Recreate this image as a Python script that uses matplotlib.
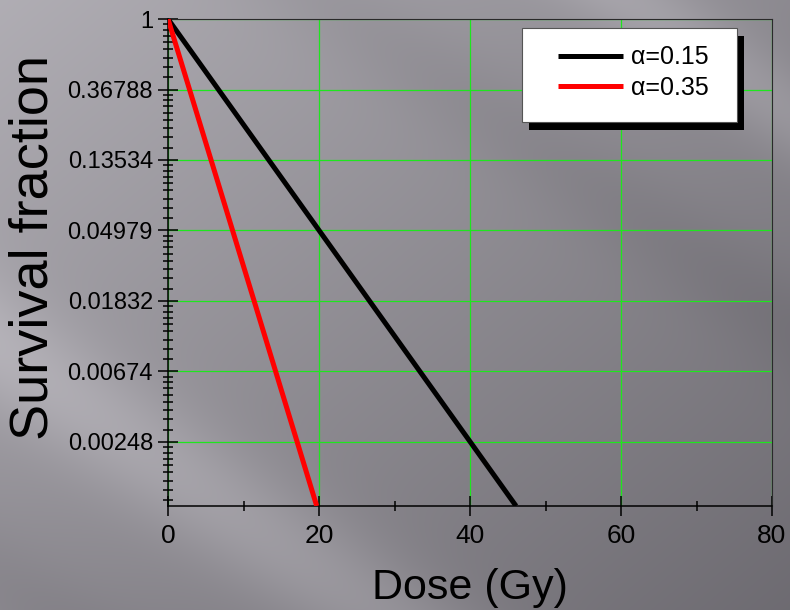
import numpy as np
import matplotlib
matplotlib.use("Agg")
import matplotlib.pyplot as plt
from matplotlib.patches import Rectangle

plt.rcParams['font.family'] = ['Liberation Sans', 'DejaVu Sans']

# survival curves (end points read on the dose axis where S = 0.001)
dose_a015 = [0, 46.1]
surv_a015 = [1, 0.001]
dose_a035 = [0, 19.7]
surv_a035 = [1, 0.001]
labels = ['\u03b1=0.15', '\u03b1=0.35']
colors = ['black', '#ff0000']

# y ticks at powers of e
ytick_vals = [1, 0.36788, 0.13534, 0.04979, 0.01832, 0.00674, 0.00248]
ytick_labels = ['1', '0.36788', '0.13534', '0.04979', '0.01832', '0.00674', '0.00248']
xticks = [0, 20, 40, 60, 80]

W, H = 790, 610
fig = plt.figure(figsize=(W / 100, H / 100), dpi=100)

# slide style grey background with diagonal streaks
yy, xx = np.mgrid[0:H, 0:W].astype(float)
u = xx / W
v = yy / H
top = 0.69 - 0.14 * u
bot = 0.56 - 0.13 * u
val = top + (bot - top) * v
q = yy - 0.7 * xx
val += 0.09 * np.exp(-((q - 350) / 70) ** 2)
val -= 0.03 * np.exp(-((q - 580) / 60) ** 2)
val -= 0.03 * np.exp(-((q + 230) / 60) ** 2)
val += 0.07 * np.exp(-((q + 440) / 50) ** 2)
rgb = np.dstack([val, val - 0.01, val + 0.015]).clip(0, 1)

bg = fig.add_axes([0, 0, 1, 1], zorder=-10)
bg.imshow(rgb, extent=[0, W, H, 0], aspect='auto', interpolation='bilinear')
bg.axis('off')

ax = fig.add_axes([168 / W, (H - 506) / H, 604 / W, 487 / H])
ax.set_facecolor('none')
ax.set_yscale('log')
ax.set_xlim(0, 80)
ax.set_ylim(0.001, 1)

l1, = ax.plot(dose_a015, surv_a015, color=colors[0], lw=3.6, solid_capstyle='butt', zorder=5)
l2, = ax.plot(dose_a035, surv_a035, color=colors[1], lw=3.6, solid_capstyle='butt', zorder=5)

ax.set_xticks(xticks)
ax.set_xticks([10, 30, 50, 70], minor=True)
ax.set_xticklabels([str(t) for t in xticks])
ax.set_yticks(ytick_vals)
ax.set_yticklabels(ytick_labels)

# 8 minor ticks per e-fold, evenly spaced in value
edges = ytick_vals + [ytick_vals[-1] / np.e]
minors = []
for hi, lo in zip(edges[:-1], edges[1:]):
    minors += [m for m in np.linspace(lo, hi, 10)[1:-1] if m >= 0.001]
ax.yaxis.set_minor_locator(matplotlib.ticker.FixedLocator(minors))
ax.yaxis.set_minor_formatter(matplotlib.ticker.NullFormatter())

ax.tick_params(which='both', direction='inout', width=1.1, top=False, right=False)
ax.tick_params(which='major', length=14)
ax.tick_params(which='minor', length=7)
ax.tick_params(axis='y', which='major', labelsize=17, pad=3.8)
ax.tick_params(axis='x', which='major', labelsize=19, pad=6)

ax.grid(True, which='major', color='#1ee61e', lw=0.9)
for s in ['left', 'bottom']:
    ax.spines[s].set_linewidth(1.1)
    ax.spines[s].set_color('black')
for s in ['top', 'right']:
    ax.spines[s].set_linewidth(0.8)
    ax.spines[s].set_color('#2a2a2a')

fig.text(34 / W, 1 - 247.5 / H, 'Survival fraction', rotation=90,
         ha='center', va='center', fontsize=39)
fig.text(470 / W, 1 - 588 / H, 'Dose (Gy)', ha='center', va='center', fontsize=31)

# legend box with offset black shadow
fig.patches.append(Rectangle((529 / W, 1 - 130 / H), 215 / W, 94 / H,
                             transform=fig.transFigure, facecolor='black',
                             edgecolor='none', zorder=3))
fig.patches.append(Rectangle((522 / W, 1 - 122 / H), 215 / W, 94 / H,
                             transform=fig.transFigure, facecolor='white',
                             edgecolor='#555555', lw=0.8, zorder=4))
leg = fig.legend([l1, l2], labels, loc='center left',
                 bbox_to_anchor=(558 / W, 1 - 72.5 / H), bbox_transform=fig.transFigure,
                 frameon=False, fontsize=18, borderpad=0, borderaxespad=0,
                 handlelength=2.6, handletextpad=0.3, labelspacing=0.25)
leg.set_zorder(6)

fig.savefig('out.png', dpi=100)
